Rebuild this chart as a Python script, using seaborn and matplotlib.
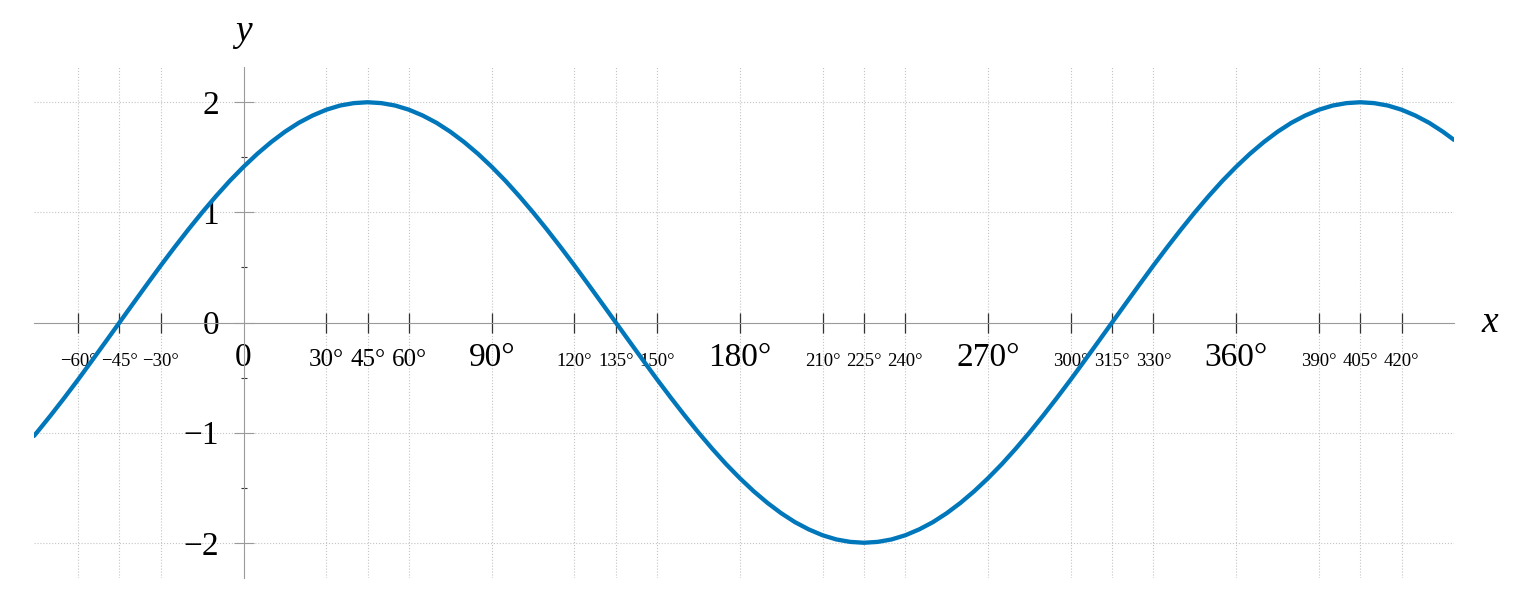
import seaborn as sns
import numpy as np
import matplotlib.pyplot as plt

# sample positions (degrees) and curve values
x_deg = [-76] + list(range(-75, 440, 5)) + [439]
y_vals = [-1.030,
          -1.000, -0.845, -0.684, -0.518, -0.347, -0.174, 0.000,
          0.174, 0.347, 0.518, 0.684, 0.845, 1.000, 1.147, 1.286, 1.414,
          1.532, 1.638, 1.732, 1.813, 1.879, 1.932, 1.970, 1.992, 2.000,
          1.992, 1.970, 1.932, 1.879, 1.813, 1.732, 1.638, 1.532, 1.414,
          1.286, 1.147, 1.000, 0.845, 0.684, 0.518, 0.347, 0.174, 0.000,
          -0.174, -0.347, -0.518, -0.684, -0.845, -1.000, -1.147, -1.286, -1.414,
          -1.532, -1.638, -1.732, -1.813, -1.879, -1.932, -1.970, -1.992, -2.000,
          -1.992, -1.970, -1.932, -1.879, -1.813, -1.732, -1.638, -1.532, -1.414,
          -1.286, -1.147, -1.000, -0.845, -0.684, -0.518, -0.347, -0.174, 0.000,
          0.174, 0.347, 0.518, 0.684, 0.845, 1.000, 1.147, 1.286, 1.414,
          1.532, 1.638, 1.732, 1.813, 1.879, 1.932, 1.970, 1.992, 2.000,
          1.992, 1.970, 1.932, 1.879, 1.813, 1.732,
          1.658]

x_ticks = [-60, -45, -30, 0, 30, 45, 60, 90, 120, 135, 150, 180, 210, 225, 240,
           270, 300, 315, 330, 360, 390, 405, 420]
x_big = [0, 90, 180, 270, 360]
x_mid = [30, 45, 60]
y_ticks = [-2, -1, 0, 1, 2]
y_minor = [-1.5, -0.5, 0.5, 1.5]

sns.set_theme(style="white")
plt.rcParams['font.family'] = ['Liberation Serif', 'DejaVu Serif']

fig = plt.figure(figsize=(15.36, 6.10), dpi=100)
ax = fig.add_axes([34 / 1536, 32 / 610, 1420 / 1536, 511 / 610])

sns.lineplot(x=x_deg, y=y_vals, color="#0077bb", linewidth=3.1, ax=ax, zorder=5)
ax.lines[0].set_solid_joinstyle("round")

ax.set_xlim(-76, 439)
ax.set_ylim(-2.32, 2.32)

for s in ["top", "right"]:
    ax.spines[s].set_visible(False)
for s in ["left", "bottom"]:
    ax.spines[s].set_position(("data", 0))
    ax.spines[s].set_color("#9a9a9a")
    ax.spines[s].set_linewidth(0.8)

def deg_label(v):
    if v == 0:
        return "0"
    return ("\u2212" if v < 0 else "") + f"{abs(v)}\u00b0"

ax.set_xticks(x_ticks, [deg_label(v) for v in x_ticks])
ax.set_yticks(y_ticks, [("\u2212" if v < 0 else "") + str(abs(v)) for v in y_ticks])
ax.set_yticks(y_minor, minor=True)

ax.tick_params(axis="x", bottom=True, direction="inout", length=14.4, width=0.9,
               color="#333333", pad=24, labelcolor="black")
ax.tick_params(axis="y", which="major", left=True, direction="inout", length=15, width=0.8,
               color="#9a9a9a", pad=10, labelsize=24, labelcolor="black")
ax.tick_params(axis="y", which="minor", left=True, direction="inout", length=5, width=0.8,
               color="#333333")

for v, lab in zip(x_ticks, ax.get_xticklabels()):
    lab.set_verticalalignment("baseline")
    if v in x_big:
        lab.set_fontsize(24)
    elif v in x_mid:
        lab.set_fontsize(18)
    else:
        lab.set_fontsize(13.5)

ax.grid(True, which="major", linestyle=":", linewidth=0.8, color="#c4c4c4")

# no tick mark or grid line at x = 0 (that's the y axis)
zero_tick = ax.xaxis.get_major_ticks()[x_ticks.index(0)]
zero_tick.tick1line.set_visible(False)
zero_tick.tick2line.set_visible(False)
zero_tick.gridline.set_visible(False)
ax.yaxis.get_major_ticks()[y_ticks.index(0)].gridline.set_visible(False)

ax.annotate("x", xy=(1, 0), xycoords=("axes fraction", "data"), xytext=(36, 0),
            textcoords="offset pixels", ha="center", va="center", fontsize=27,
            fontstyle="italic", color="black")
ax.annotate("y", xy=(0, 1), xycoords=("data", "axes fraction"), xytext=(0, 35),
            textcoords="offset pixels", ha="center", va="center", fontsize=27,
            fontstyle="italic", color="black")

fig.savefig("out.png", dpi=100)
